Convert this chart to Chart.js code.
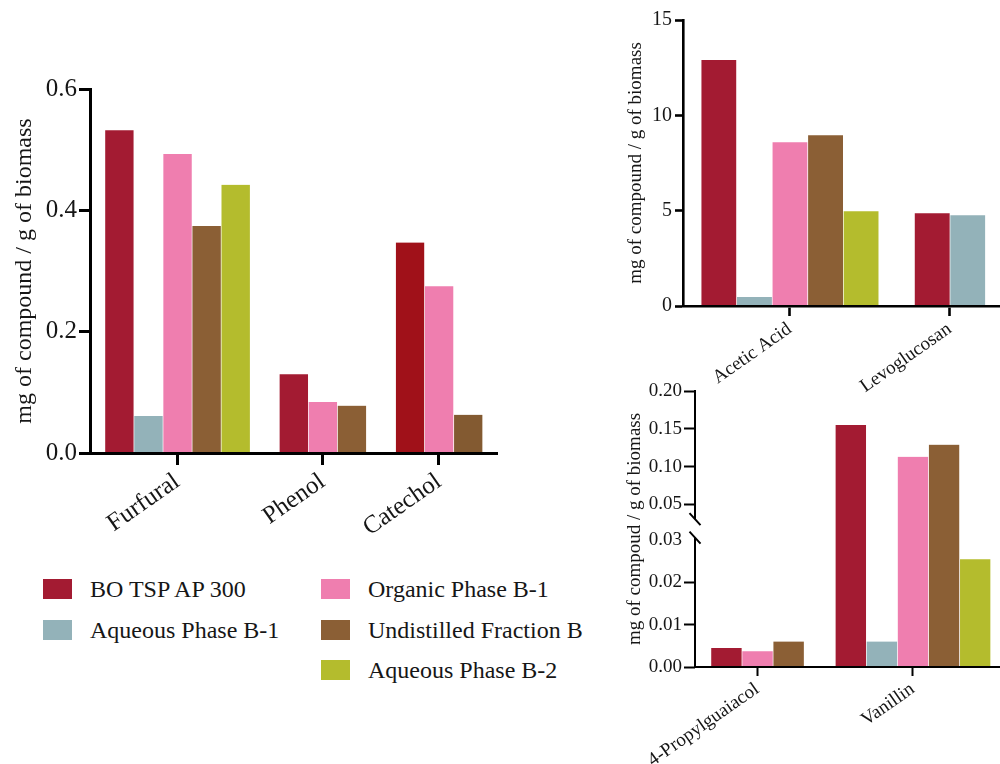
<!DOCTYPE html>
<html>
<head>
<meta charset="utf-8">
<script src="https://cdn.jsdelivr.net/npm/chart.js"></script>
<style>
  html, body { margin: 0; padding: 0; background: #ffffff; }
  body { position: relative; width: 1000px; height: 764px; overflow: hidden; }
  canvas { position: absolute; }
  .legend-item { position: absolute; height: 20px; line-height: 20px; white-space: nowrap;
    font-family: 'Liberation Serif', serif; font-size: 24px; color: #161616; }
  .legend-swatch { position: absolute; left: 0; top: 0; width: 29px; height: 20px; }
  .legend-text { position: absolute; left: 47px; top: 0; }
</style>
</head>
<body>
<canvas id="mainChart" width="520" height="480" style="left:0px; top:60px;"></canvas>
<canvas id="majorChart" width="410" height="400" style="left:600px; top:0px;"></canvas>
<canvas id="traceChart" width="410" height="394" style="left:600px; top:370px;"></canvas>
<div id="legend"></div>

<script>
// ---- series shared by all three panels ----
const series = ['BO TSP AP 300', 'Aqueous Phase B-1', 'Organic Phase B-1', 'Undistilled Fraction B', 'Aqueous Phase B-2'];
const seriesColours = ['#A31B32', '#93B2B9', '#EF7EAF', '#8B5F35', '#B4BC2D'];

// ---- left panel: furans and phenolics (mg / g biomass) ----
const mainCategories = ['Furfural', 'Phenol', 'Catechol'];
const mainBO = [0.532, 0.130, 0.347];
const mainAqueous1 = [0.061, null, null];
const mainOrganic = [0.493, 0.084, 0.275];
const mainUndistilled = [0.374, 0.078, 0.063];
const mainAqueous2 = [0.442, null, null];
const mainTicks = [0, 0.2, 0.4, 0.6];

// ---- upper right panel: major compounds ----
const majorCategories = ['Acetic Acid', 'Levoglucosan'];
const majorBO = [12.9, 4.87];
const majorAqueous1 = [0.47, 4.76];
const majorOrganic = [8.59, null];
const majorUndistilled = [8.96, null];
const majorAqueous2 = [4.97, null];
const majorTicks = [0, 5, 10, 15];

// ---- lower right panel: trace guaiacols (split axis) ----
const traceCategories = ['4-Propylguaiacol', 'Vanillin'];
const traceBO = [0.0045, 0.155];
const traceAqueous1 = [null, 0.006];
const traceOrganic = [0.0037, 0.113];
const traceUndistilled = [0.006, 0.129];
const traceAqueous2 = [null, 0.0254];
const traceLowerTicks = [0, 0.01, 0.02, 0.03];
const traceUpperTicks = [0.05, 0.10, 0.15, 0.20];

// Catechol bars were rendered in slightly deeper shades
const barColourOverrides = { 'Catechol': { 0: '#A01119', 3: '#835A31' } };

const FONT = "'Liberation Serif', serif";
const TEXT = '#161616';

// Bars of a group sit side by side; absent series leave no gap.
// Each bar occupies one slot, groups are separated by one empty slot,
// and half a slot pads both ends of the axis.
function slotLayout(categories, valueArrays) {
  const points = valueArrays.map(() => []);
  const centres = [];
  let pos = 0.5;
  categories.forEach((cat, ci) => {
    const present = [];
    valueArrays.forEach((vals, si) => { if (vals[ci] !== null && vals[ci] !== undefined) present.push(si); });
    present.forEach((si, k) => points[si].push({ x: pos + k + 0.5, y: valueArrays[si][ci], cat: cat }));
    centres.push(pos + present.length / 2);
    pos += present.length + 1;
  });
  return { points, centres, span: pos - 0.5 };
}

// ---- split value axis for the trace panel ----
const traceSplit = { lower: 0.4616, upper: 0.5895 };   // fraction of the axis height at each break edge
const lowTop = traceLowerTicks[traceLowerTicks.length - 1];
const upBottom = traceUpperTicks[0];
const upTop = traceUpperTicks[traceUpperTicks.length - 1];

function traceValueToDecimal(v) {
  if (v <= lowTop) return v / lowTop * traceSplit.lower;
  if (v <= upBottom) return traceSplit.lower + (v - lowTop) / (upBottom - lowTop) * (traceSplit.upper - traceSplit.lower);
  return traceSplit.upper + (v - upBottom) / (upTop - upBottom) * (1 - traceSplit.upper);
}
function traceDecimalToValue(d) {
  if (d <= traceSplit.lower) return d / traceSplit.lower * lowTop;
  if (d <= traceSplit.upper) return lowTop + (d - traceSplit.lower) / (traceSplit.upper - traceSplit.lower) * (upBottom - lowTop);
  return upBottom + (d - traceSplit.upper) / (1 - traceSplit.upper) * (upTop - upBottom);
}

const BaseLinear = Chart.LinearScale || Chart.registry.getScale('linear');
class BrokenLinearScale extends BaseLinear {
  getPixelForValue(value) {
    return value === null ? NaN : this.getPixelForDecimal(traceValueToDecimal(value));
  }
  getValueForPixel(pixel) {
    return traceDecimalToValue(this.getDecimalForPixel(pixel));
  }
}
BrokenLinearScale.id = 'brokenLinear';
BrokenLinearScale.defaults = BaseLinear.defaults;
Chart.register(BrokenLinearScale);

// Draws the value axis line with the two break marks
const axisBreakPlugin = {
  id: 'axisBreak',
  afterDraw(chart) {
    const y = chart.scales.y;
    const area = chart.chartArea;
    const ctx = chart.ctx;
    const x0 = area.left;
    const lowMark = y.getPixelForValue(lowTop) - 2;
    const highMark = lowMark - 18.5;
    ctx.save();
    ctx.strokeStyle = '#000';
    ctx.lineWidth = 2;
    ctx.beginPath();
    ctx.moveTo(x0, area.top - 1); ctx.lineTo(x0, highMark);
    ctx.moveTo(x0, lowMark); ctx.lineTo(x0, area.bottom);
    ctx.moveTo(x0 - 5.5, highMark - 6); ctx.lineTo(x0 + 5.5, highMark + 6);
    ctx.moveTo(x0 - 5.5, lowMark - 6); ctx.lineTo(x0 + 5.5, lowMark + 6);
    ctx.stroke();
    ctx.restore();
  }
};

function buildPanel(canvasId, categories, valueArrays, cfg) {
  const layout = slotLayout(categories, valueArrays);
  const datasets = series.map((name, si) => ({
    label: name,
    data: layout.points[si],
    backgroundColor: (ctx) => {
      const raw = ctx.raw;
      const o = raw && barColourOverrides[raw.cat];
      return (o && o[si]) || seriesColours[si];
    },
    borderColor: '#ffffff',
    borderWidth: { left: 1, right: 0, top: 0, bottom: 0 },
    borderSkipped: false,
    grouped: false,
    barPercentage: 1,
    categoryPercentage: 1
  }));

  const yAxis = {
    type: cfg.yType || 'linear',
    min: cfg.yTicks[0],
    max: cfg.yTicks[cfg.yTicks.length - 1],
    bounds: 'data',
    afterBuildTicks: (s) => { s.ticks = cfg.yTicks.map(v => ({ value: v })); },
    afterFit: (s) => { s.width = cfg.yAxisWidth; },
    grid: {
      drawOnChartArea: false, drawTicks: true, tickLength: cfg.yTickLength,
      tickWidth: cfg.lineWidth,
      tickColor: (ctx) => (cfg.hiddenTick !== undefined && ctx.tick && ctx.tick.value === cfg.hiddenTick) ? 'rgba(0,0,0,0)' : '#000'
    },
    border: { display: cfg.yType !== 'brokenLinear', color: '#000', width: cfg.lineWidth },
    ticks: {
      autoSkip: false, padding: cfg.yLabelPad, color: TEXT,
      font: { family: FONT, size: cfg.yTickFont },
      callback: (v) => cfg.yFormat(v)
    },
    title: {
      display: true, text: cfg.yTitle, color: TEXT,
      font: { family: FONT, size: cfg.yTitleFont },
      padding: { top: cfg.yTitlePad, bottom: 0 }
    }
  };

  const xAxis = {
    type: 'linear',
    min: 0,
    max: layout.span,
    bounds: 'data',
    offset: false,
    afterBuildTicks: (s) => { s.ticks = layout.centres.map(v => ({ value: v })); },
    afterFit: (s) => { s.height = cfg.xAxisHeight; },
    grid: {
      drawOnChartArea: false, drawTicks: true, offset: false,
      tickLength: cfg.xTickLength, tickWidth: cfg.lineWidth, tickColor: '#000'
    },
    border: { display: true, color: '#000', width: cfg.lineWidth, z: 1 },
    ticks: {
      autoSkip: false, minRotation: cfg.rotation, maxRotation: cfg.rotation,
      padding: cfg.xLabelPad, color: TEXT,
      font: { family: FONT, size: cfg.xTickFont },
      callback: (v, i) => categories[i]
    },
    z: 1
  };

  return new Chart(document.getElementById(canvasId), {
    type: 'bar',
    data: { datasets },
    options: {
      responsive: false,
      animation: false,
      devicePixelRatio: 1,
      font: { family: FONT },
      layout: { padding: cfg.padding },
      plugins: { legend: { display: false }, tooltip: { enabled: false } },
      scales: { x: xAxis, y: yAxis }
    },
    plugins: cfg.plugins || []
  });
}

Chart.defaults.font.family = FONT;

buildPanel('mainChart', mainCategories,
  [mainBO, mainAqueous1, mainOrganic, mainUndistilled, mainAqueous2], {
  yTicks: mainTicks, yFormat: v => v.toFixed(1),
  yTitle: 'mg of compound / g of biomass', yTitleFont: 24, yTitlePad: 10.6,
  yTickFont: 25, yTickLength: 11, yLabelPad: 2, yAxisWidth: 90,
  xTickFont: 25, xTickLength: 12, xLabelPad: 2, xAxisHeight: 87, rotation: 35,
  lineWidth: 3,
  padding: { left: 0, top: 29, right: 23, bottom: 0 }
});

buildPanel('majorChart', majorCategories,
  [majorBO, majorAqueous1, majorOrganic, majorUndistilled, majorAqueous2], {
  yTicks: majorTicks, yFormat: v => String(v),
  yTitle: 'mg of compound / g of biomass', yTitleFont: 19, yTitlePad: 24.6,
  yTickFont: 20, yTickLength: 8, yLabelPad: 3, yAxisWidth: 83,
  xTickFont: 19, xTickLength: 10, xLabelPad: 2, xAxisHeight: 94, rotation: 35,
  lineWidth: 2.6,
  padding: { left: 0, top: 20, right: 7, bottom: 0 }
});

buildPanel('traceChart', traceCategories,
  [traceBO, traceAqueous1, traceOrganic, traceUndistilled, traceAqueous2], {
  yType: 'brokenLinear',
  yTicks: traceLowerTicks.concat(traceUpperTicks), yFormat: v => v.toFixed(2),
  hiddenTick: lowTop,
  yTitle: 'mg of compoud / g of biomass', yTitleFont: 19, yTitlePad: 23.6,
  yTickFont: 19, yTickLength: 11, yLabelPad: 2, yAxisWidth: 95,
  xTickFont: 19, xTickLength: 9, xLabelPad: 2, xAxisHeight: 97, rotation: 35,
  lineWidth: 2,
  padding: { left: 0, top: 21, right: 4, bottom: 0 },
  plugins: [axisBreakPlugin]
});

// ---- legend (two columns) ----
const legendColumns = [[0, 1], [2, 3, 4]];
const legendColumnX = [43, 321];
const legendTop = 579, legendRowGap = 40.5;
const legendEl = document.getElementById('legend');
legendColumns.forEach((col, c) => {
  col.forEach((si, r) => {
    const item = document.createElement('div');
    item.className = 'legend-item';
    item.style.left = legendColumnX[c] + 'px';
    item.style.top = (legendTop + r * legendRowGap) + 'px';
    const sw = document.createElement('span');
    sw.className = 'legend-swatch';
    sw.style.background = seriesColours[si];
    const tx = document.createElement('span');
    tx.className = 'legend-text';
    tx.textContent = series[si];
    item.appendChild(sw);
    item.appendChild(tx);
    legendEl.appendChild(item);
  });
});
</script>
</body>
</html>
